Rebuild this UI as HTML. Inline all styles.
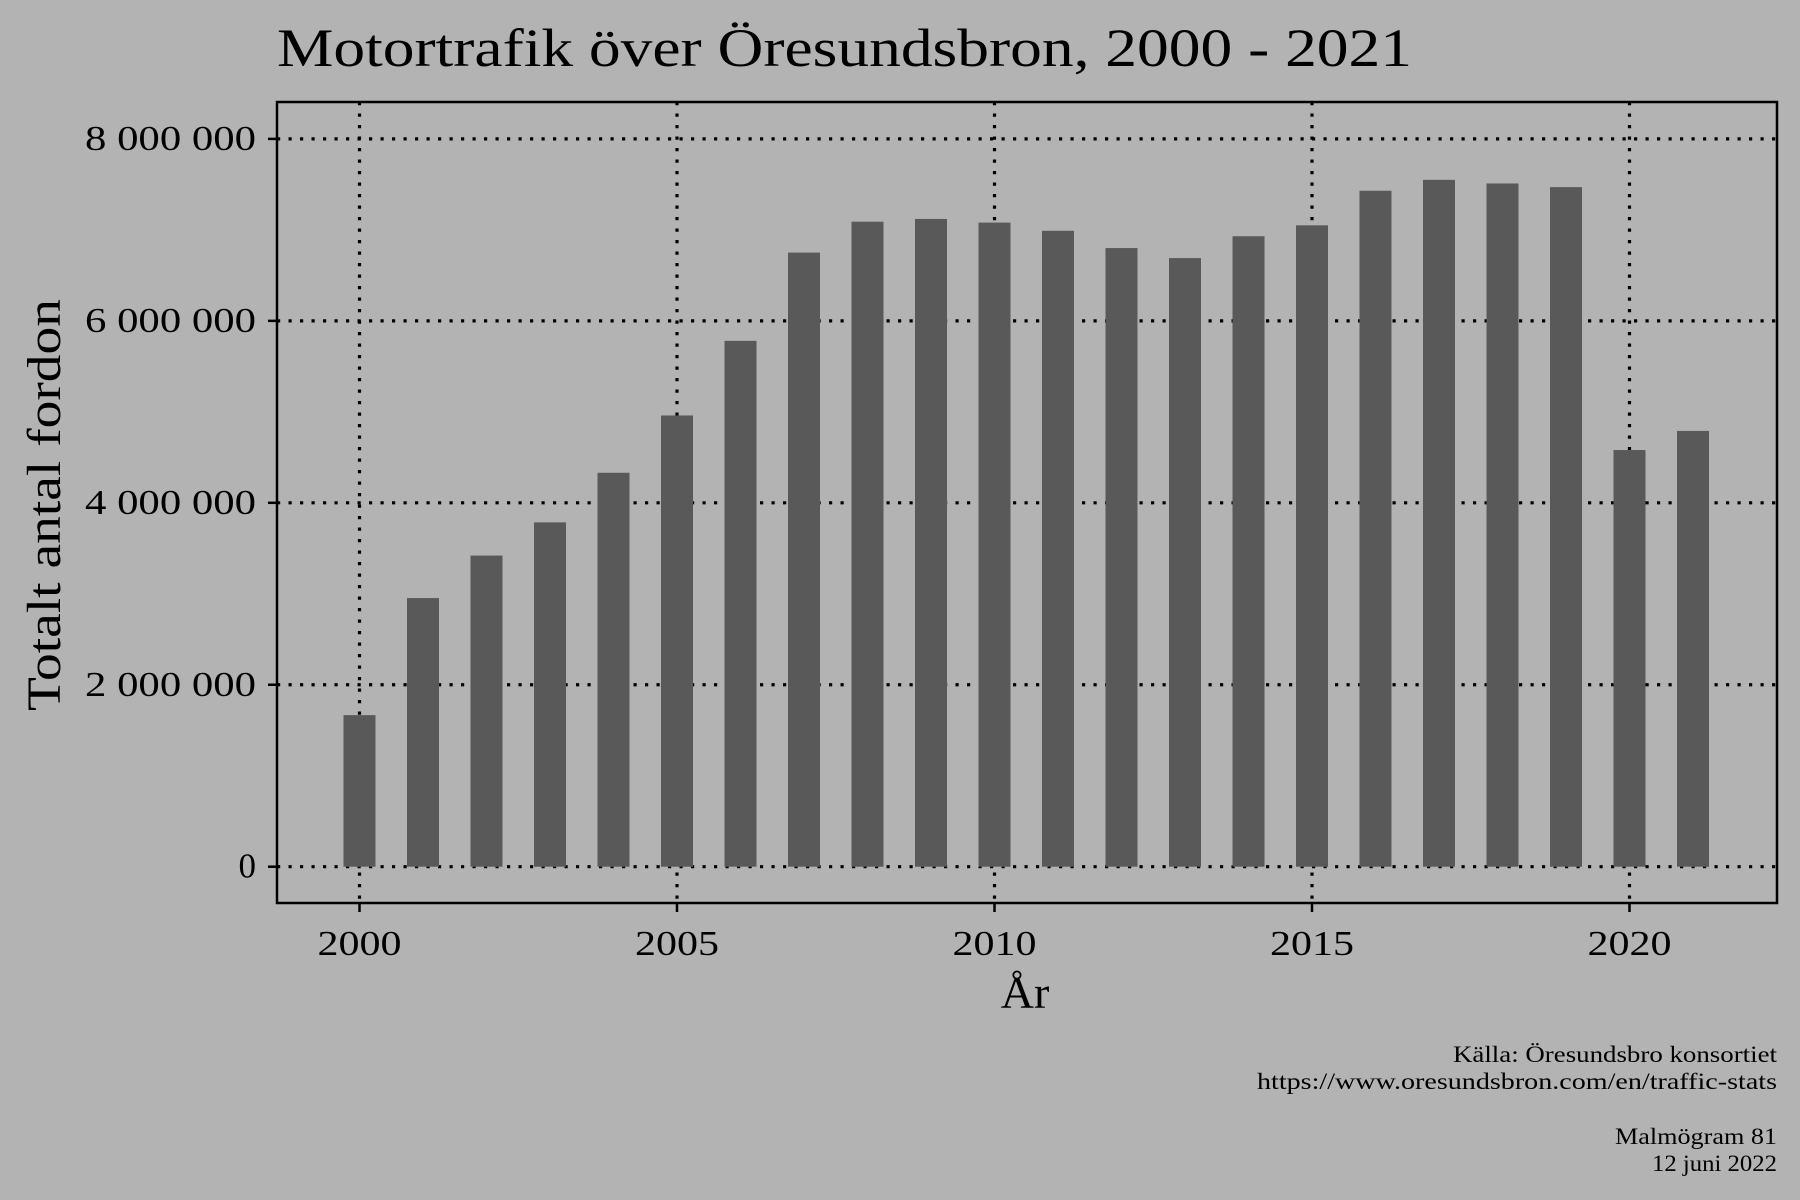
<!DOCTYPE html>
<html><head><meta charset="utf-8"><style>
body{margin:0;background:#b3b3b3}
svg{display:block;font-family:"Liberation Serif",serif}
</style></head><body>
<svg id="chart" width="1800" height="1200" viewBox="0 0 1800 1200">
<rect width="1800" height="1200" fill="#b3b3b3"/>
<text x="277" y="66" font-size="54" textLength="1135" lengthAdjust="spacingAndGlyphs" fill="#000">Motortrafik över Öresundsbron, 2000 - 2021</text>
<g id="grid"></g>
<g id="bars"></g>
<rect x="277" y="102" width="1500" height="801" fill="none" stroke="#000" stroke-width="2.5"/>
<g id="yticks"></g>
<g id="xticks"></g>
<text x="1025" y="1008" font-size="46" text-anchor="middle">År</text>
<text transform="translate(60,505) rotate(-90)" font-size="48" text-anchor="middle" textLength="412" lengthAdjust="spacingAndGlyphs">Totalt antal fordon</text>
<g font-size="23" text-anchor="end">
<text x="1777" y="1062" textLength="324" lengthAdjust="spacingAndGlyphs">Källa: Öresundsbro konsortiet</text>
<text x="1777" y="1089" textLength="520" lengthAdjust="spacingAndGlyphs">https://www.oresundsbron.com/en/traffic-stats</text>
<text x="1777" y="1144" textLength="162" lengthAdjust="spacingAndGlyphs">Malmögram 81</text>
<text x="1777" y="1171" textLength="125" lengthAdjust="spacingAndGlyphs">12 juni 2022</text>
</g>
</svg>
<script>
const years=[2000,2001,2002,2003,2004,2005,2006,2007,2008,2009,2010,2011,2012,2013,2014,2015,2016,2017,2018,2019,2020,2021];
const vehicles=[1666000,2953000,3420000,3785000,4330000,4960000,5780000,6750000,7090000,7120000,7080000,6990000,6800000,6690000,6930000,7050000,7430000,7550000,7510000,7470000,4580000,4790000];
const yTicks=[0,2000000,4000000,6000000,8000000];
const yTickLabels=["0","2 000 000","4 000 000","6 000 000","8 000 000"];
const xTicks=[2000,2005,2010,2015,2020];
const NS="http://www.w3.org/2000/svg";
const x=v=>359.5+(v-2000)*63.5;
const y=v=>866.7-(v/8000000)*(866.7-138.9);
const mk=(t,a,p)=>{const e=document.createElementNS(NS,t);for(const k in a)e.setAttribute(k,a[k]);document.getElementById(p).appendChild(e);return e;};
yTicks.forEach((v,i)=>{
 const g=mk('line',{x1:277,x2:1777,y1:y(v),y2:y(v),stroke:'#000','stroke-width':3.2,'stroke-dasharray':'3.2 8.3'},'grid');
 
 
 const t=mk('line',{x1:268,x2:277,y1:y(v),y2:y(v),stroke:'#000','stroke-width':2.5},'yticks');
 
 
 const attrs={x:256,y:y(v)+11,'font-size':35,'text-anchor':'end'};
 if(i>0){attrs.textLength=171;attrs.lengthAdjust='spacingAndGlyphs';}
 const l=mk('text',attrs,'yticks');
 l.textContent=yTickLabels[i];
 
 
});
xTicks.forEach(v=>{
 const g=mk('line',{x1:x(v),x2:x(v),y1:102,y2:903,stroke:'#000','stroke-width':3.2,'stroke-dasharray':'3.2 8.3'},'grid');
 
 
 const t=mk('line',{x1:x(v),x2:x(v),y1:903,y2:912,stroke:'#000','stroke-width':2.5},'xticks');
 
 
 const l=mk('text',{x:x(v),y:955,'font-size':35,'text-anchor':'middle',textLength:84,lengthAdjust:'spacingAndGlyphs'},'xticks');
 l.textContent=v;
 
 
});
years.forEach((yr,i)=>{
 const b=mk('rect',{x:x(yr)-16,y:y(vehicles[i]),width:32,height:y(0)-y(vehicles[i]),fill:'#595959'},'bars');
 
 
});
</script>
</body></html>
